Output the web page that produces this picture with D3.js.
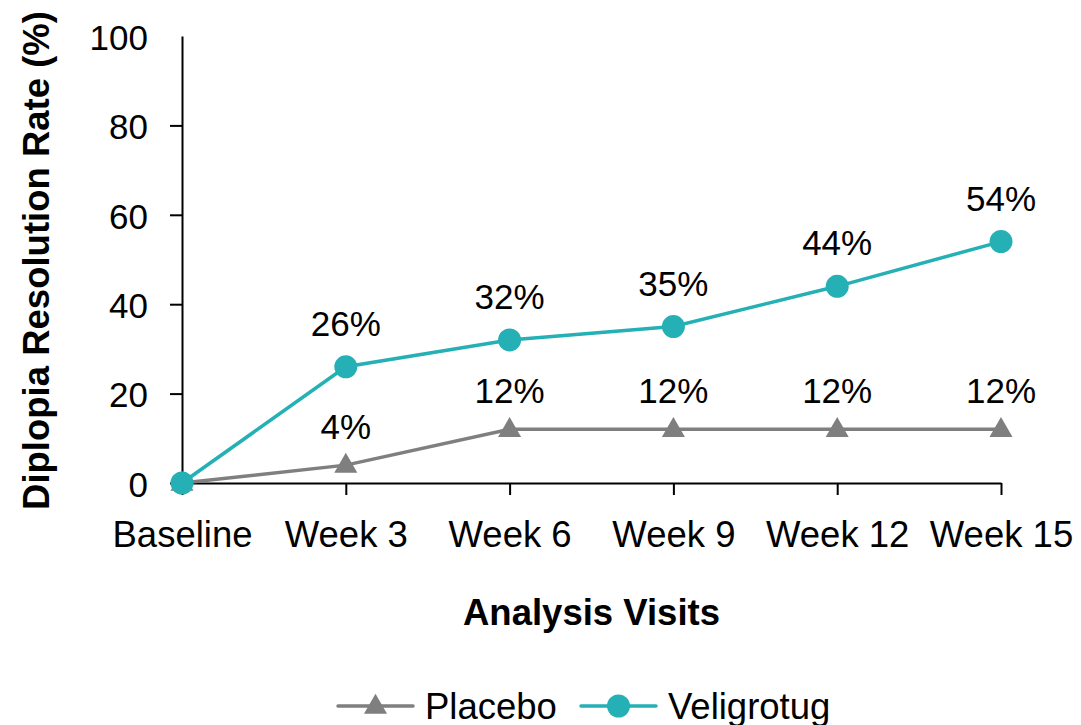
<!DOCTYPE html>
<html>
<head>
<meta charset="utf-8">
<script src="https://cdn.jsdelivr.net/npm/d3@7"></script>
<style>
  html, body { margin: 0; padding: 0; background: #ffffff; }
  svg { display: block; font-family: "Liberation Sans", Arial, sans-serif; }
</style>
</head>
<body>
<svg id="chart" width="1081" height="725"></svg>
<script>
// Visit labels along the x axis
const visits = ["Baseline", "Week 3", "Week 6", "Week 9", "Week 12", "Week 15"];
// Resolution rate (%) per visit
const placeboRates = [0, 4, 12, 12, 12, 12];
const veligrotugRates = [0, 26, 32, 35, 44, 54];
// Y axis tick values
const yTicks = [0, 20, 40, 60, 80, 100];

const seriesNames = ["Placebo", "Veligrotug"];
const seriesColors = ["#7f7f7f", "#24b0b5"];

const width = 1081, height = 725;
const margin = { top: 36, right: 80, bottom: 242, left: 182 };

const svg = d3.select("#chart");

const x = d3.scalePoint()
  .domain(visits)
  .range([margin.left, width - margin.right])
  .padding(0);

const y = d3.scaleLinear()
  .domain([0, 100])
  .range([height - margin.bottom, margin.top]);

const labelSize = 35;
const axisTextSize = 36.5;

// Y axis
const yAxis = svg.append("g")
  .attr("transform", `translate(${margin.left},0)`)
  .call(d3.axisLeft(y).tickValues(yTicks).tickSize(12).tickPadding(22).tickSizeOuter(0));
yAxis.select(".domain").attr("stroke", "#000").attr("stroke-width", 2);
yAxis.selectAll(".tick line").attr("stroke", "#000").attr("stroke-width", 2)
  .attr("display", d => d === 100 ? "none" : null);
yAxis.selectAll(".tick text")
  .attr("font-size", labelSize)
  .attr("dy", "0.38em")
  .attr("font-family", "Liberation Sans, Arial, sans-serif")
  .attr("fill", "#000");

// X axis
const xAxis = svg.append("g")
  .attr("transform", `translate(0,${y(0)})`)
  .call(d3.axisBottom(x).tickSize(12).tickPadding(26).tickSizeOuter(0));
xAxis.select(".domain").attr("stroke", "#000").attr("stroke-width", 2);
xAxis.selectAll(".tick line").attr("stroke", "#000").attr("stroke-width", 2);
xAxis.selectAll(".tick text")
  .attr("font-size", axisTextSize)
  .attr("font-family", "Liberation Sans, Arial, sans-serif")
  .attr("fill", "#000");

// Axis titles
svg.append("text")
  .attr("x", (margin.left + width - margin.right) / 2)
  .attr("y", 625)
  .attr("text-anchor", "middle")
  .attr("font-size", axisTextSize)
  .attr("font-weight", "bold")
  .text("Analysis Visits");

svg.append("text")
  .attr("transform", `translate(49,${(y(0) + y(100)) / 2 + 1}) rotate(-90)`)
  .attr("text-anchor", "middle")
  .attr("font-size", axisTextSize)
  .attr("font-weight", "bold")
  .text("Diplopia Resolution Rate (%)");

const triangle = d3.symbol().type(d3.symbolTriangle).size(230);

const line = d3.line()
  .x((d, i) => x(visits[i]))
  .y(d => y(d));

function drawSeries(values, color, marker, labelGap) {
  const g = svg.append("g");
  g.append("path")
    .datum(values)
    .attr("fill", "none")
    .attr("stroke", color)
    .attr("stroke-width", 3.5)
    .attr("d", line);
  if (marker === "triangle") {
    g.selectAll("path.mark")
      .data(values)
      .join("path")
      .attr("class", "mark")
      .attr("d", triangle)
      .attr("transform", (d, i) => `translate(${x(visits[i])},${y(d) + 1})`)
      .attr("fill", color);
  } else {
    g.selectAll("circle")
      .data(values)
      .join("circle")
      .attr("cx", (d, i) => x(visits[i]))
      .attr("cy", d => y(d))
      .attr("r", 11.5)
      .attr("fill", color);
  }
  // Value labels above each point after baseline
  g.selectAll("text")
    .data(values.map((v, i) => ({ v, i })).filter(d => d.i > 0))
    .join("text")
    .attr("x", d => x(visits[d.i]))
    .attr("y", d => y(d.v) - labelGap)
    .attr("text-anchor", "middle")
    .attr("font-size", labelSize)
    .attr("fill", "#000")
    .text(d => d.v + "%");
}

drawSeries(placeboRates, seriesColors[0], "triangle", 26);
drawSeries(veligrotugRates, seriesColors[1], "circle", 31);

// Legend
const legendY = 706;
const legend = svg.append("g");
const legendItems = [
  { name: seriesNames[0], color: seriesColors[0], marker: "triangle", x0: 338 },
  { name: seriesNames[1], color: seriesColors[1], marker: "circle", x0: 581 }
];
legendItems.forEach(item => {
  legend.append("line")
    .attr("x1", item.x0).attr("x2", item.x0 + 75)
    .attr("y1", legendY).attr("y2", legendY)
    .attr("stroke", item.color).attr("stroke-width", 3.5)
    .attr("stroke-linecap", "round");
  if (item.marker === "triangle") {
    legend.append("path")
      .attr("d", triangle)
      .attr("transform", `translate(${item.x0 + 37.5},${legendY + 1})`)
      .attr("fill", item.color);
  } else {
    legend.append("circle")
      .attr("cx", item.x0 + 37.5).attr("cy", legendY)
      .attr("r", 11.5).attr("fill", item.color);
  }
  legend.append("text")
    .attr("x", item.x0 + 87)
    .attr("y", legendY + 12.5)
    .attr("font-size", axisTextSize)
    .attr("fill", "#000")
    .text(item.name);
});
</script>
</body>
</html>
